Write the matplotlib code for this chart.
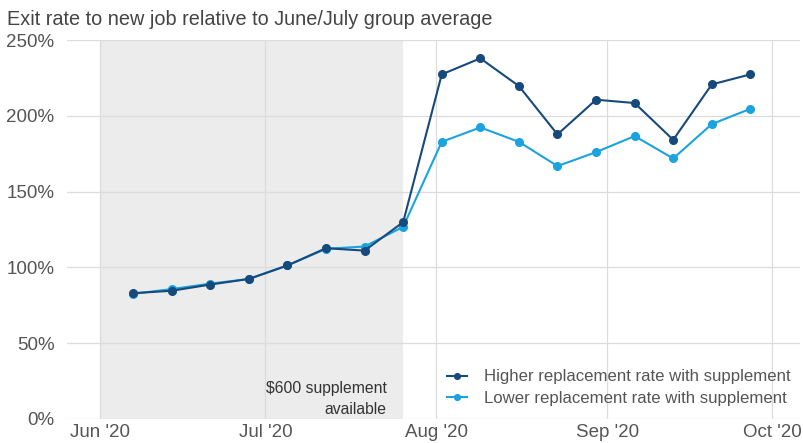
import matplotlib
matplotlib.use("Agg")
import matplotlib.pyplot as plt
import matplotlib.dates as mdates
from matplotlib.ticker import FuncFormatter
import numpy as np
import datetime as dt

plt.rcParams['font.family'] = ['Liberation Sans', 'DejaVu Sans']

# weekly observations
weeks = [dt.date(2020, 6, 7) + dt.timedelta(days=7 * i) for i in range(17)]
higher = [82.9, 84.5, 88.6, 92.3, 101.2, 112.6, 111.0, 129.8,
          227.3, 237.9, 219.6, 187.7, 210.6, 208.4, 184.1, 220.7, 227.3]
lower = [82.5, 85.6, 89.2, 92.3, 101.2, 112.2, 113.7, 126.7,
         182.8, 192.3, 182.8, 166.8, 176.0, 186.6, 171.8, 194.5, 204.6]

supp_start = dt.date(2020, 6, 1)
supp_end = dt.date(2020, 7, 26)

c_high = '#174a7c'
c_low = '#1ba3df'
grid_c = '#dcdcdc'
text_c = '#555555'

fig = plt.figure(figsize=(8.04, 4.43), dpi=100)
ax = fig.add_axes([0.0833, 0.0546, 0.9117, 0.8551])

ax.axvspan(supp_start, supp_end, color='#ececec', zorder=0, lw=0)

ax.plot(weeks, higher, color=c_high, marker='o', ms=5.5, lw=1.5, zorder=4,
        label='Higher replacement rate with supplement')
ax.plot(weeks, lower, color=c_low, marker='o', ms=5.5, lw=1.5, zorder=3,
        label='Lower replacement rate with supplement')

ax.set_xlim(dt.date(2020, 5, 26), dt.date(2020, 10, 6))
ax.set_ylim(0, 250)
ax.set_yticks([0, 50, 100, 150, 200, 250])
ax.yaxis.set_major_formatter(FuncFormatter(lambda v, p: f'{v:.0f}%'))
ax.xaxis.set_major_locator(mdates.MonthLocator())
ax.xaxis.set_major_formatter(mdates.DateFormatter("%b '%y"))

ax.grid(True, color=grid_c, lw=0.9, zorder=1)
ax.set_axisbelow(True)
for s in ax.spines.values():
    s.set_visible(False)
ax.tick_params(length=0, labelsize=13.5, colors=text_c, pad=4)
ax.tick_params(axis='y', pad=9)

ax.text(dt.date(2020, 7, 23), 13, '$600 supplement\navailable', ha='right',
        va='center', fontsize=11.3, color='#333333', linespacing=1.5)

ax.legend(loc='lower right', bbox_to_anchor=(1.0, 0.009), frameon=False,
          fontsize=12.1, labelcolor=text_c,
          handlelength=1.2, handletextpad=1.0, borderaxespad=0.25,
          borderpad=0.3, labelspacing=0.4, markerscale=0.75)

fig.text(0.009, 0.955, 'Exit rate to new job relative to June/July group average',
         fontsize=14.3, color='#444444', va='center')

fig.savefig('out.png', dpi=100)
